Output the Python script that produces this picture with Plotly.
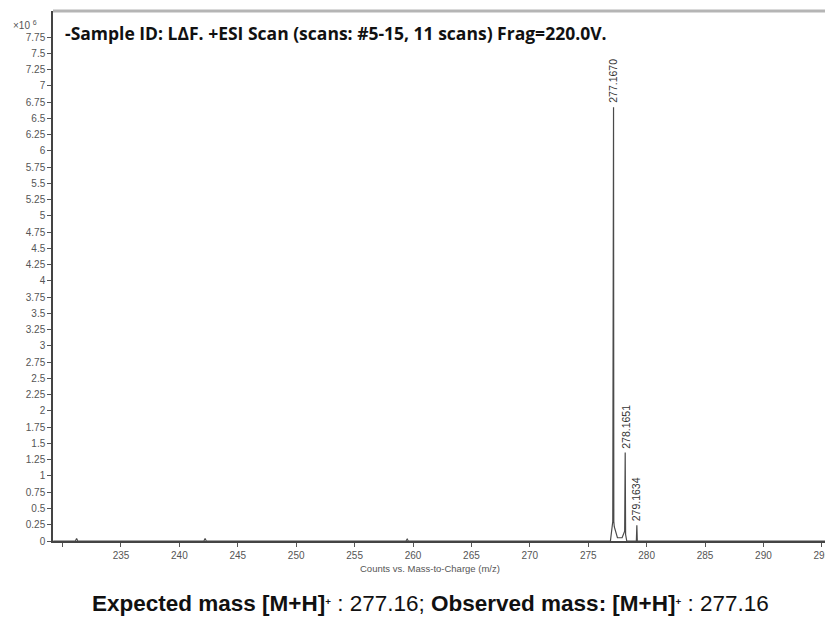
import plotly.graph_objects as go

# Profile spectrum (m/z vs counts, in units of 10^6)
mz = [229.2, 231.1, 231.2, 231.3, 242.1, 242.2, 242.3, 259.4, 259.5, 259.6,
      276.9, 277.10, 277.14, 277.167, 277.19, 277.23, 277.5, 277.9,
      278.12, 278.165, 278.20, 278.3, 279.12, 279.163, 279.20, 279.4, 295.3]
counts = [0, 0, 0.04, 0, 0, 0.04, 0, 0, 0.03, 0,
          0, 0.3, 4.1, 6.67, 0.3, 0.22, 0.05, 0.05,
          0.15, 1.36, 0.1, 0, 0, 0.24, 0, 0, 0]

# Labelled peaks
peak_mz = [277.1670, 278.1651, 279.1634]
peak_counts = [6.67, 1.36, 0.24]
peak_labels = ["277.1670", "278.1651", "279.1634"]

# Axis ticks
x_ticks = [230, 235, 240, 245, 250, 255, 260, 265, 270, 275, 280, 285, 290, 295]
x_ticktext = ["", "235", "240", "245", "250", "255", "260", "265", "270",
              "275", "280", "285", "290", "295"]
y_ticks = [i * 0.25 for i in range(32)]
y_ticktext = [("%g" % v) for v in y_ticks]

W, H = 825, 619
L, R, T, B = 53, 0, 11, 78
pw, ph = W - L - R, H - T - B


def px(x):
    return (x - L) / pw


def py(y):
    return (H - B - y) / ph


fig = go.Figure()
fig.add_trace(go.Scatter(x=mz, y=counts, mode="lines",
                         line=dict(color="#4a4a4a", width=1.2),
                         hoverinfo="skip", showlegend=False))

for m, c, t in zip(peak_mz, peak_counts, peak_labels):
    fig.add_annotation(x=m, y=c, text=t, showarrow=False, textangle=-90,
                       xanchor="center", yanchor="bottom", yshift=2,
                       font=dict(family="Liberation Sans, Arial", size=10.5,
                                 color="#333"))

axis_font = dict(family="Liberation Sans, Arial", size=10, color="#555")

fig.update_layout(
    width=W, height=H,
    margin=dict(l=L, r=R, t=T, b=B, pad=0, autoexpand=False),
    paper_bgcolor="white", plot_bgcolor="white",
    xaxis=dict(range=[229.18, 295.27], tickvals=x_ticks, ticktext=x_ticktext,
               ticks="outside", ticklen=4, tickcolor="#555", showgrid=False,
               zeroline=False, showline=True, linecolor="#444", linewidth=1.5,
               tickfont=axis_font, ticklabeloverflow="allow", automargin=False),
    yaxis=dict(range=[0, 8.15], tickvals=y_ticks, ticktext=y_ticktext,
               ticks="outside", ticklen=4, tickcolor="#555", showgrid=False,
               zeroline=False, showline=True, linecolor="#444", linewidth=1.5,
               tickfont=axis_font, automargin=False),
)

# Top frame line of the plot panel
fig.add_shape(type="line", xref="paper", yref="paper", x0=0, x1=1, y0=1, y1=1,
              line=dict(color="#b5b5b5", width=3))

# Scale factor, panel title, axis caption and bottom caption
fig.add_annotation(xref="paper", yref="paper", x=px(11), y=py(25),
                   xanchor="left", yanchor="middle", showarrow=False,
                   text="×10 <sup>6</sup>",
                   font=dict(family="Liberation Sans, Arial", size=10, color="#555"))
fig.add_annotation(xref="paper", yref="paper", x=px(63), y=py(33),
                   xanchor="left", yanchor="middle", showarrow=False,
                   text="<b>-Sample ID: LΔF. +ESI Scan (scans: #5-15, 11 scans) Frag=220.0V.</b>",
                   font=dict(family="Open Sans", size=17.5, color="#111"))
fig.add_annotation(xref="paper", yref="paper", x=px(430), y=py(568),
                   xanchor="center", yanchor="middle", showarrow=False,
                   text="Counts vs. Mass-to-Charge (m/z)",
                   font=dict(family="Liberation Sans, Arial", size=9.5, color="#555"))
fig.add_annotation(xref="paper", yref="paper", x=px(430), y=py(603),
                   xanchor="center", yanchor="middle", showarrow=False,
                   text="<b>Expected mass [M+H]<span style='font-size:14px'><sup>+</sup></span></b> : 277.16; "
                        "<b>Observed mass: [M+H]<span style='font-size:14px'><sup>+</sup></span></b> : 277.16",
                   font=dict(family="Liberation Sans, Arial", size=22.5, color="#111"))

fig.write_html("out.html")
